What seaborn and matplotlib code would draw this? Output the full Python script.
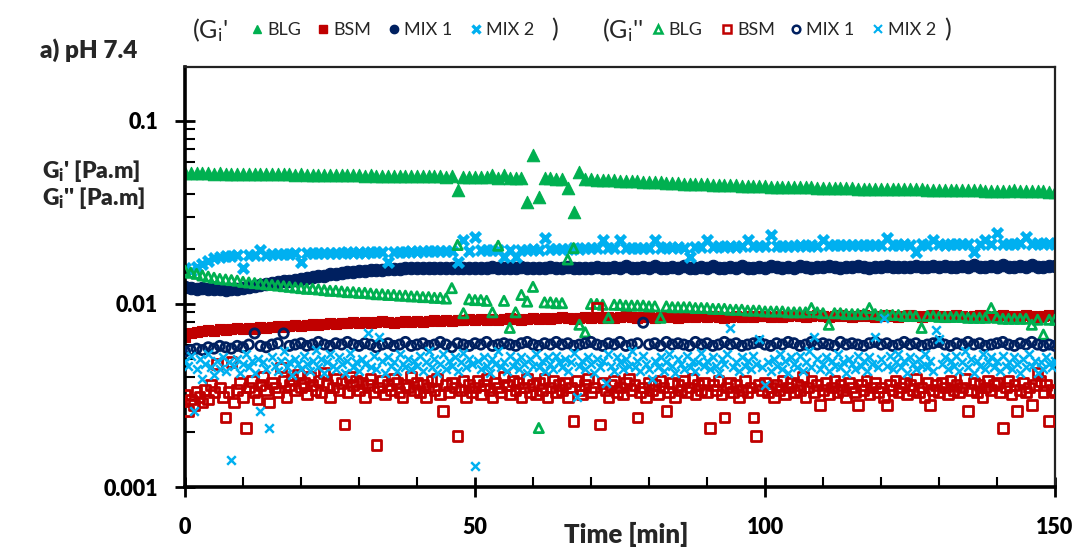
import numpy as np
import matplotlib
matplotlib.use("Agg")
import matplotlib.pyplot as plt
from matplotlib.lines import Line2D
from matplotlib.ticker import MultipleLocator, LogLocator, FuncFormatter, NullFormatter
import seaborn as sns

# ---------------------------------------------------------------------------
# Data: interfacial moduli, values in units of 1e-4 Pa.m
# ---------------------------------------------------------------------------
UNIT = 1e-4
t_1min = np.arange(0, 151, 1.0)       # sampling every minute
t_half = np.arange(0, 150.5, 0.5)     # sampling every half minute

# storage modulus G_i'
blg_g1 = [
    520, 518, 519, 517, 518, 516, 517, 515, 516, 514,
    515, 513, 514, 512, 513, 511, 512, 510, 511, 509,
    510, 508, 509, 507, 508, 506, 507, 505, 506, 504,
    505, 503, 504, 502, 503, 501, 502, 500, 501, 499,
    500, 498, 499, 497, 498, 496, 497, 420, 495, 494,
    493, 492, 491, 505, 490, 507, 489, 488, 487, 361,
    652, 384, 486, 485, 484, 483, 431, 318, 526, 480,
    479, 478, 476, 475, 473, 472, 470, 469, 467, 466,
    464, 463, 461, 460, 458, 457, 455, 454, 452, 451,
    450, 449, 447, 446, 445, 444, 443, 442, 441, 440,
    439, 438, 437, 436, 436, 435, 434, 433, 433, 432,
    431, 431, 430, 429, 429, 428, 427, 427, 426, 426,
    425, 425, 424, 424, 423, 423, 422, 422, 421, 421,
    420, 420, 419, 419, 418, 418, 417, 417, 416, 416,
    415, 415, 414, 420, 414, 413, 413, 412, 412, 411,
    411]
bsm_g1 = [
    66, 69, 70, 71, 72, 71, 73, 72, 73, 74,
    73, 74, 73, 75, 74, 75, 76, 75, 76, 77,
    76, 77, 78, 77, 78, 79, 78, 79, 79, 80,
    79, 80, 79, 80, 81, 80, 79, 80, 81, 80,
    81, 80, 81, 82, 81, 82, 81, 82, 82, 83,
    82, 83, 82, 83, 82, 83, 84, 83, 82, 83,
    84, 83, 84, 83, 84, 85, 84, 83, 84, 85,
    84, 85, 84, 85, 84, 85, 86, 85, 84, 85,
    85, 84, 85, 86, 85, 84, 85, 86, 85, 86,
    85, 86, 85, 84, 85, 86, 85, 86, 85, 86,
    86, 85, 86, 85, 86, 87, 86, 85, 86, 87,
    86, 85, 86, 87, 86, 85, 86, 87, 86, 85,
    86, 87, 86, 85, 86, 87, 86, 85, 86, 87,
    86, 85, 86, 87, 86, 85, 86, 87, 86, 85,
    86, 87, 86, 85, 86, 87, 86, 85, 86, 87,
    86]
mix1_g1 = [
    123, 122, 121, 122, 120, 121, 120, 119, 120, 121,
    122, 124, 125, 127, 128, 130, 131, 133, 134, 136,
    137, 139, 140, 142, 143, 145, 146, 147, 149, 150,
    151, 152, 153, 154, 154, 155, 156, 156, 157, 157,
    157, 158, 157, 158, 157, 158, 158, 157, 158, 157,
    158, 157, 158, 159, 157, 158, 157, 158, 160, 157,
    158, 157, 158, 159, 157, 158, 160, 157, 158, 157,
    158, 160, 157, 158, 159, 158, 161, 158, 157, 159,
    158, 161, 158, 157, 159, 158, 161, 158, 157, 159,
    158, 161, 158, 158, 159, 158, 161, 158, 158, 160,
    158, 161, 159, 158, 160, 158, 162, 159, 158, 160,
    159, 162, 159, 158, 160, 159, 162, 159, 158, 160,
    159, 162, 159, 159, 160, 159, 162, 159, 159, 161,
    159, 162, 159, 159, 161, 159, 163, 160, 159, 161,
    160, 163, 160, 160, 161, 160, 163, 160, 160, 161,
    161]
mix2_g1 = [
    157, 152, 160, 166, 172, 178, 180, 182, 183, 184,
    157, 185, 186, 197, 186, 187, 187, 188, 188, 189,
    170, 189, 190, 189, 190, 191, 190, 191, 192, 191,
    192, 191, 192, 193, 192, 170, 193, 192, 193, 194,
    193, 194, 195, 194, 195, 194, 195, 169, 224, 195,
    233, 196, 197, 196, 197, 180, 198, 180, 197, 198,
    199, 198, 229, 199, 200, 199, 200, 201, 200, 201,
    201, 202, 224, 202, 201, 224, 202, 203, 202, 203,
    203, 224, 203, 204, 203, 204, 203, 180, 204, 205,
    224, 205, 206, 205, 206, 205, 206, 224, 206, 207,
    207, 237, 207, 208, 207, 208, 209, 208, 209, 208,
    224, 209, 210, 209, 210, 209, 210, 210, 211, 210,
    211, 230, 210, 211, 212, 211, 192, 212, 211, 224,
    212, 211, 212, 213, 212, 212, 192, 213, 224, 212,
    245, 213, 212, 213, 214, 232, 213, 214, 213, 214,
    213]

# loss modulus G_i''
blg_g2 = [
    152, 148, 146, 143, 141, 139, 137, 136, 135, 134,
    132, 131, 130, 129, 128, 127, 126, 125, 124, 123,
    122, 121, 121, 120, 119, 118, 118, 117, 116, 116,
    115, 115, 114, 113, 113, 112, 112, 111, 111, 110,
    110, 109, 109, 108, 108, 107, 122, 210, 89, 106,
    105, 105, 104, 90, 208, 104, 74, 90, 112, 103,
    124, 21, 102, 102, 101, 101, 175, 202, 77, 70,
    100, 100, 99, 84, 99, 99, 98, 98, 98, 98,
    97, 97, 84, 97, 96, 96, 96, 96, 95, 95,
    95, 94, 94, 94, 93, 93, 93, 92, 92, 92,
    91, 91, 91, 91, 90, 90, 90, 90, 95, 90,
    89, 77, 89, 89, 88, 88, 88, 88, 95, 88,
    87, 87, 87, 87, 86, 86, 86, 74, 86, 86,
    85, 85, 85, 85, 85, 84, 84, 84, 84, 95,
    84, 83, 83, 83, 83, 83, 77, 82, 68, 82,
    82]
bsm_g2 = [
    32, 26, 30, 28, 33, 31, 29, 34, 30, 36, 33, 47, 35, 31, 24, 33, 48, 29, 34, 37,
    31, 21, 35, 38, 33, 30, 36, 40, 34, 29, 37, 35, 33, 45, 38, 31, 36, 39, 34, 41,
    35, 37, 32, 40, 36, 34, 38, 33, 42, 36, 31, 35, 39, 34, 37, 22, 33, 40, 36, 38,
    34, 37, 31, 36, 39, 33, 17, 35, 38, 32, 36, 34, 39, 37, 33, 31, 36, 35, 40, 34,
    37, 33, 36, 31, 35, 38, 34, 39, 32, 26, 36, 33, 37, 35, 19, 34, 38, 31, 36, 33,
    35, 38, 32, 36, 39, 34, 31, 37, 35, 33, 40, 36, 32, 38, 34, 37, 31, 35, 39, 33,
    36, 32, 37, 34, 39, 31, 35, 38, 33, 36, 34, 37, 31, 35, 23, 38, 34, 32, 36, 39,
    33, 35, 95, 22, 37, 34, 31, 36, 38, 33, 35, 32, 37, 39, 34, 36, 24, 33, 35, 31,
    37, 34, 36, 32, 38, 35, 26, 33, 37, 31, 36, 34, 38, 33, 35, 39, 32, 36, 34, 37,
    33, 21, 36, 34, 38, 32, 24, 35, 37, 33, 36, 31, 34, 38, 33, 35, 24, 19, 36, 34,
    37, 33, 35, 31, 36, 34, 38, 32, 35, 37, 33, 36, 34, 40, 31, 35, 38, 33, 36, 28,
    34, 37, 32, 35, 38, 33, 36, 34, 31, 37, 35, 33, 28, 36, 34, 38, 32, 35, 37, 33,
    35, 31, 28, 36, 34, 38, 33, 35, 37, 32, 36, 34, 39, 33, 35, 31, 37, 28, 34, 36,
    33, 37, 35, 32, 38, 34, 36, 33, 35, 39, 26, 34, 37, 33, 36, 31, 35, 38, 34, 36,
    37, 33, 21, 35, 38, 32, 36, 26, 34, 37, 33, 35, 28, 36, 42, 38, 33, 36, 23, 34,
    33]
mix1_g2 = [
    55, 56, 57, 56, 58, 57, 59, 58, 57, 59,
    58, 60, 69, 59, 58, 60, 61, 69, 59, 60,
    61, 59, 60, 62, 60, 59, 61, 60, 62, 60,
    59, 61, 60, 58, 60, 61, 59, 60, 62, 59,
    60, 61, 59, 60, 62, 60, 58, 61, 60, 59,
    61, 60, 62, 59, 60, 61, 60, 59, 61, 62,
    60, 59, 61, 60, 62, 60, 61, 59, 60, 61,
    62, 60, 59, 61, 60, 62, 59, 60, 61, 79,
    60, 61, 59, 62, 60, 61, 60, 59, 62, 60,
    61, 59, 60, 62, 60, 61, 59, 60, 61, 62,
    60, 59, 61, 60, 62, 61, 59, 60, 62, 60,
    61, 60, 59, 62, 60, 61, 60, 59, 61, 62,
    60, 61, 59, 60, 62, 60, 61, 59, 60, 61,
    62, 60, 59, 61, 60, 62, 60, 61, 59, 60,
    61, 62, 60, 59, 61, 60, 62, 60, 59, 60,
    59]
mix2_g2 = [
    49, 46, 52, 26, 44, 50, 39, 47, 53, 45, 41, 49, 44, 51, 43, 48, 14, 46, 50, 42,
    47, 53, 45, 49, 42, 50, 26, 48, 44, 21, 51, 46, 43, 49, 55, 45, 48, 41, 50, 47,
    44, 52, 47, 43, 49, 56, 45, 50, 42, 48, 53, 46, 44, 51, 47, 42, 49, 54, 45, 48,
    43, 50, 47, 69, 45, 52, 44, 66, 49, 42, 51, 46, 48, 43, 53, 47, 45, 50, 44, 49,
    46, 52, 43, 48, 55, 45, 50, 42, 47, 53, 44, 49, 46, 51, 43, 48, 54, 45, 50, 47,
    13, 49, 44, 51, 46, 42, 50, 47, 55, 45, 48, 43, 52, 46, 49, 44, 51, 47, 42, 50,
    46, 53, 45, 49, 43, 51, 47, 44, 52, 48, 45, 50, 43, 48, 54, 31, 46, 49, 44, 51,
    47, 42, 50, 45, 49, 37, 53, 46, 43, 51, 48, 44, 50, 46, 55, 45, 49, 43, 52, 47,
    44, 39, 49, 45, 51, 43, 48, 53, 46, 42, 50, 47, 44, 52, 45, 49, 43, 48, 54, 46,
    49, 44, 51, 46, 42, 50, 47, 53, 74, 45, 48, 43, 51, 46, 49, 44, 52, 47, 64, 45,
    36, 48, 43, 50, 46, 53, 44, 49, 42, 51, 47, 45, 52, 43, 48, 55, 45, 66, 50, 44,
    47, 51, 43, 49, 46, 53, 45, 48, 42, 50, 47, 44, 52, 46, 49, 43, 51, 47, 66, 45,
    50, 84, 46, 52, 44, 48, 53, 45, 49, 42, 51, 47, 44, 50, 46, 53, 45, 49, 43, 72,
    64, 47, 51, 44, 49, 46, 52, 43, 48, 55, 45, 50, 42, 49, 46, 53, 44, 48, 51, 45,
    49, 43, 52, 46, 48, 44, 51, 47, 42, 50, 45, 53, 46, 49, 42, 48, 44, 51, 47, 45,
    49]

samples = ["BLG", "BSM", "MIX 1", "MIX 2"]
colors = ["#00B050", "#C00000", "#002060", "#00B0F0"]
y_ticks = [0.001, 0.01, 0.1]
x_ticks = [0, 50, 100, 150]

# ---------------------------------------------------------------------------
# Style
# ---------------------------------------------------------------------------
sns.set_theme(style="white")
plt.rcParams["font.family"] = ["Lato", "DejaVu Sans"]
plt.rcParams["mathtext.default"] = "regular"

W, H = 1082, 554
fig = plt.figure(figsize=(W / 100, H / 100), dpi=100)
fig.patch.set_facecolor("white")
ax = fig.add_axes([185 / W, 1 - 487 / H, (1055 - 185) / W, (487 - 67) / H])
ax.set_facecolor("white")

# (values, marker, marker area)
g1_series = [(blg_g1, "^", 80), (bsm_g1, "s", 58), (mix1_g1, "o", 80), (mix2_g1, "x", 52)]
g2_series = [(blg_g2, "^", 44), (bsm_g2, "s", 48), (mix1_g2, "o", 44), (mix2_g2, "x", 38)]
g2_times = [t_1min, t_half, t_1min, t_half]

for (vals, mk, s), c in zip(g1_series, colors):
    y = np.asarray(vals, dtype=float) * UNIT
    if mk == "x":
        sns.scatterplot(x=t_1min, y=y, marker=mk, s=s, color=c, linewidth=3.2, ax=ax, zorder=2)
    else:
        sns.scatterplot(x=t_1min, y=y, marker=mk, s=s, color=c, edgecolor=c, linewidth=0.8,
                        ax=ax, zorder=2)

for (vals, mk, s), c, tt in zip(g2_series, colors, g2_times):
    y = np.asarray(vals, dtype=float) * UNIT
    if mk == "x":
        sns.scatterplot(x=tt, y=y, marker=mk, s=s, color=c, linewidth=1.8, ax=ax, zorder=3)
    else:
        sns.scatterplot(x=tt, y=y, marker=mk, s=s, color=c, facecolors="none", edgecolors=c,
                        linewidth=2.0, ax=ax, zorder=3)

# ---------------------------------------------------------------------------
# Axes
# ---------------------------------------------------------------------------
ax.set_yscale("log")
ax.set_xlim(0, 150)
ax.set_ylim(0.001, 0.197)
ax.set_xlabel("")
ax.set_ylabel("")

ax.xaxis.set_major_locator(MultipleLocator(50))
ax.xaxis.set_minor_locator(MultipleLocator(10))
ax.set_xticks(x_ticks)
ax.set_yticks(y_ticks)
ax.yaxis.set_minor_locator(LogLocator(base=10, subs=np.arange(2, 10)))
ax.yaxis.set_minor_formatter(NullFormatter())
ax.yaxis.set_major_formatter(FuncFormatter(lambda v, p: f"{v:g}"))

ax.tick_params(axis="both", which="major", direction="inout", length=15, width=2,
               color="black", labelsize=15.5, bottom=True, left=True, top=False, right=False)
ax.tick_params(axis="both", which="minor", direction="in", length=7, width=1.5,
               color="black", bottom=True, left=True, top=False, right=False)
ax.tick_params(axis="x", which="major", pad=14)
ax.tick_params(axis="y", which="major", pad=12)
for lab in ax.get_xticklabels() + ax.get_yticklabels():
    lab.set_fontweight("heavy")
    lab.set_color("black")

for side in ["left", "bottom"]:
    ax.spines[side].set_linewidth(2.6)
    ax.spines[side].set_color("black")
for side in ["top", "right"]:
    ax.spines[side].set_linewidth(1.6)
    ax.spines[side].set_color("#222222")
ax.grid(False)

# ---------------------------------------------------------------------------
# Labels
# ---------------------------------------------------------------------------
fig.text(40 / W, 1 - 50 / H, "a) pH 7.4", fontsize=17.5, fontweight="heavy", va="center", ha="left")
fig.text(42 / W, 1 - 171 / H, "G$_i$' [Pa.m]", fontsize=16.5, fontweight="heavy", va="center", ha="left")
fig.text(42 / W, 1 - 198 / H, "G$_i$'' [Pa.m]", fontsize=16.5, fontweight="heavy", va="center", ha="left")
fig.text(626 / W, 1 - 534 / H, "Time [min]", fontsize=18.5, fontweight="heavy", va="center", ha="center")

# Header legend: storage and loss moduli
y_leg = 1 - 30 / H
fig.text(192 / W, y_leg, "(G$_i$'", fontsize=18, va="center", ha="left")
fig.text(551 / W, y_leg, ")", fontsize=18, va="center", ha="left")
fig.text(602 / W, y_leg, "(G$_i$''", fontsize=18, va="center", ha="left")
fig.text(944 / W, y_leg, ")", fontsize=18, va="center", ha="left")

g1_marker_x = [257, 323, 394, 476]
g2_marker_x = [658, 727, 796, 878]
for (vals, mk, s), c, mx, lab in zip(g1_series, colors, g1_marker_x, samples):
    if mk == "x":
        h = Line2D([], [], ls="none", marker=mk, color=c, ms=5.5, mew=2.4)
    else:
        h = Line2D([], [], ls="none", marker=mk, color=c, ms=6, mfc=c, mec=c)
    fig.legend([h], [lab], loc="center left", bbox_to_anchor=((mx - 5) / W, y_leg),
               bbox_transform=fig.transFigure, frameon=False, fontsize=13,
               handlelength=0.55, handletextpad=0.3, borderpad=0, borderaxespad=0)
for (vals, mk, s), c, mx, lab in zip(g2_series, colors, g2_marker_x, samples):
    if mk == "x":
        h = Line2D([], [], ls="none", marker=mk, color=c, ms=5.5, mew=1.5)
    else:
        h = Line2D([], [], ls="none", marker=mk, color=c, ms=5.5, mfc="none", mec=c, mew=1.8)
    fig.legend([h], [lab], loc="center left", bbox_to_anchor=((mx - 5) / W, y_leg),
               bbox_transform=fig.transFigure, frameon=False, fontsize=13,
               handlelength=0.55, handletextpad=0.3, borderpad=0, borderaxespad=0)

fig.savefig("out.png", dpi=100, facecolor="white")
